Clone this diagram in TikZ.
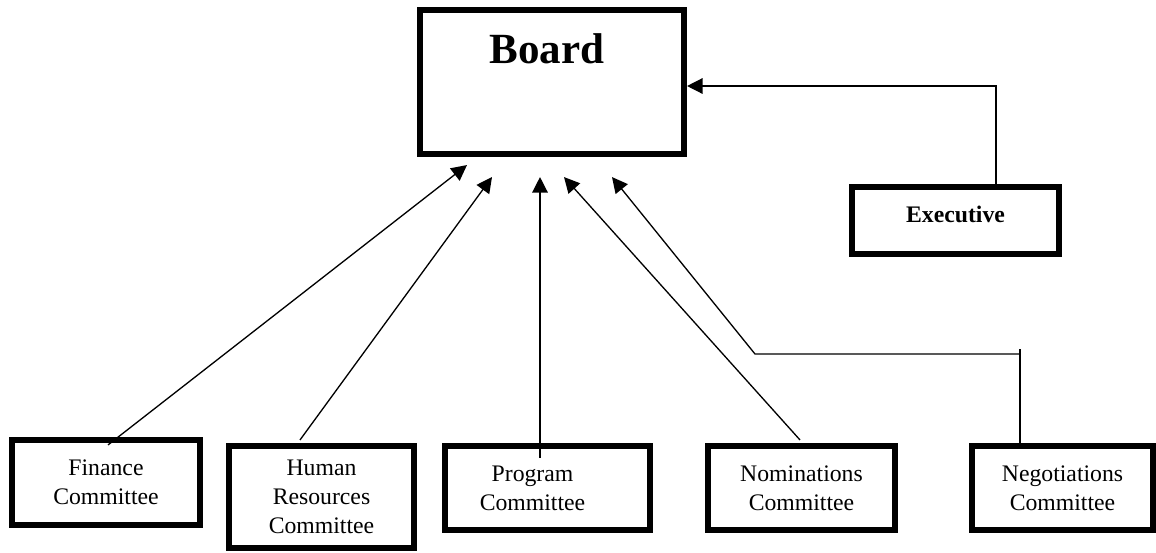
\documentclass[tikz,border=0pt]{standalone}
\usepackage{fontspec}
\setmainfont{Liberation Serif}
\usetikzlibrary{arrows.meta,calc}

\begin{document}
\begin{tikzpicture}[x=0.02cm, y=-0.02cm,
    box/.style={draw, rectangle, line width=3.2pt, inner sep=0pt, align=center, font=\fontsize{13.5}{16.5}\selectfont},
    link/.style={line width=0.75pt},
    arrowline/.style={link, -{Triangle[length=0.31cm, width=0.31cm]}}]
  \useasboundingbox (0,0) rectangle (1156,552);

  % Board and executive
  \node[box, minimum width=5.29cm, minimum height=2.89cm] (board) at (552,82) {};
  \node[anchor=base, font=\fontsize{24.5}{28}\selectfont\bfseries] (boardtitle) at (547,63) {Board};
  \node[box, font=\fontsize{13.5}{16.5}\selectfont\bfseries, text depth=0.25cm, minimum width=4.15cm, minimum height=1.35cm] (exec) at (955.5,220.5) {Executive};

  % Committees
  \node[box, minimum width=3.77cm, minimum height=1.71cm] (finance) at (106,482.5) {Finance\\Committee};
  \node[box, minimum width=3.71cm, minimum height=2.05cm] (hr) at (321.5,497) {Human\\Resources\\Committee};
  \node[box, minimum width=4.11cm, minimum height=1.69cm] (program) at (547.5,488) {Program\hspace*{0.6cm}\\Committee\hspace*{0.6cm}};
  \node[box, minimum width=3.75cm, minimum height=1.69cm] (nominations) at (801.5,488) {Nominations\\Committee};
  \node[box, minimum width=3.63cm, minimum height=1.69cm] (negotiations) at (1062.5,488) {Negotiations\\Committee};

  % Reporting lines
  \draw[arrowline] ($(finance.north)+(2,8)$) -- ($(board.south)+(-85,8)$);
  \draw[arrowline] ($(hr.north)+(-21.5,-3)$) -- ($(board.south)+(-60,20)$);
  \draw[arrowline] ($(program.north)+(-7.5,15)$) -- ($(board.south)+(-12,20)$);
  \draw[arrowline] ($(nominations.north)+(-1.5,-3)$) -- ($(board.south)+(12,20)$);
  \draw[link] ($(negotiations.north)+(-42.5,0)$) coordinate (negofoot) -- ++(0,-94);
  \coordinate (negobend) at (755,354);
  \draw[arrowline] (negofoot |- negobend) -- (negobend) -- ($(board.south)+(60,20)$);
  \draw[arrowline] ($(exec.north)+(40.5,0)$) |- ($(board.east)+(0,4)$);
\end{tikzpicture}
\end{document}
